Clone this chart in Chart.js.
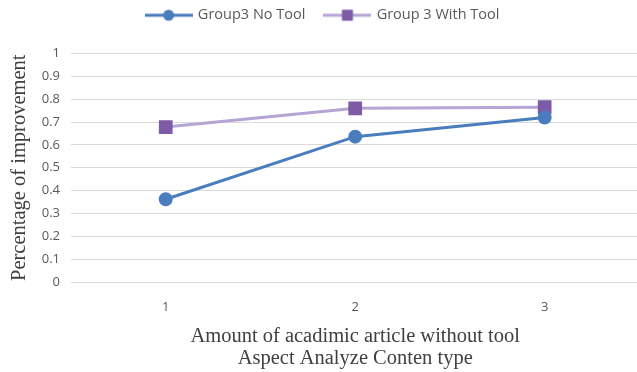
<!DOCTYPE html>
<html>
<head>
<meta charset="utf-8">
<script src="https://cdn.jsdelivr.net/npm/chart.js@4/dist/chart.umd.min.js"></script>
<style>
  html, body { margin: 0; padding: 0; background: #ffffff; overflow: hidden; }
  #wrap { width: 650px; height: 372px; position: relative; }
</style>
</head>
<body>
<div id="wrap"><canvas id="chart"></canvas></div>
<script>
// Categories and series
const categories = ['1', '2', '3'];
const noToolValues = [0.362, 0.636, 0.72];
const withToolValues = [0.678, 0.76, 0.765];
const seriesNames = ['Group3 No Tool', 'Group 3 With Tool'];
const yTicks = [0, 0.1, 0.2, 0.3, 0.4, 0.5, 0.6, 0.7, 0.8, 0.9, 1];
const yTitle = 'Percentage of improvement';
const xTitle = ['Amount of acadimic article without tool', 'Aspect Analyze Conten type'];

const blue = '#4a7dbd';
const purpleLine = '#b4a5d5';
const purpleMark = '#7d5ba6';
const textGray = '#595959';
const titleGray = '#404040';
const gridGray = '#d9d9d9';

// Legend swatch: a short line segment with the series marker in its middle
function legendSwatch(lineColor, markColor, shape) {
  const c = document.createElement('canvas');
  c.width = 48; c.height = 14;
  const g = c.getContext('2d');
  g.strokeStyle = lineColor;
  g.lineWidth = 3;
  g.beginPath(); g.moveTo(0, 7); g.lineTo(48, 7); g.stroke();
  g.fillStyle = markColor;
  if (shape === 'circle') {
    g.beginPath(); g.arc(24, 7, 5.5, 0, Math.PI * 2); g.fill();
  } else {
    g.fillRect(18.5, 1.5, 11, 11);
  }
  return c;
}
const swatches = [
  legendSwatch(blue, blue, 'circle'),
  legendSwatch(purpleLine, purpleMark, 'rect')
];

// Legend box: fixed height above the plot, drawn with a small offset
const legendPlacement = {
  id: 'legendPlacement',
  afterInit(chart) {
    const legend = chart.legend;
    const fit = legend.fit;
    legend.fit = function () { fit.call(this); this.height = 53.5; };
    const draw = legend.draw;
    legend.draw = function () {
      const ctx = this.ctx;
      ctx.save();
      ctx.translate(-2, -12);
      draw.call(this);
      ctx.restore();
    };
  }
};

new Chart(document.getElementById('chart'), {
  type: 'line',
  data: {
    labels: categories,
    datasets: [
      {
        label: seriesNames[0],
        data: noToolValues,
        borderColor: blue,
        backgroundColor: blue,
        borderWidth: 3,
        pointStyle: 'circle',
        pointRadius: 5.5,
        pointBackgroundColor: blue,
        pointBorderColor: blue,
        tension: 0
      },
      {
        label: seriesNames[1],
        data: withToolValues,
        borderColor: purpleLine,
        backgroundColor: purpleMark,
        borderWidth: 3,
        pointStyle: 'rect',
        pointRadius: 7.6,
        pointBackgroundColor: purpleMark,
        pointBorderColor: purpleMark,
        tension: 0
      }
    ]
  },
  plugins: [legendPlacement],
  options: {
    responsive: true,
    maintainAspectRatio: false,
    animation: false,
    layout: { padding: { top: 0, right: 0, bottom: 0, left: 0 } },
    plugins: {
      tooltip: { enabled: false },
      legend: {
        position: 'top',
        labels: {
          usePointStyle: true,
          pointStyleWidth: 44,
          boxHeight: 12,
          padding: 20,
          color: textGray,
          font: { family: 'Open Sans', size: 14.5 },
          generateLabels(chart) {
            return chart.data.datasets.map((ds, i) => ({
              text: ds.label,
              fillStyle: ds.borderColor,
              strokeStyle: ds.borderColor,
              lineWidth: 0,
              pointStyle: swatches[i],
              hidden: false,
              datasetIndex: i,
              fontColor: textGray
            }));
          }
        }
      }
    },
    scales: {
      x: {
        offset: true,
        afterFit(scale) { scale.height = 90; },
        grid: { display: false, drawTicks: false },
        border: { display: false },
        ticks: { color: textGray, font: { family: 'Open Sans', size: 13 }, padding: 17 },
        title: {
          display: true,
          text: xTitle,
          color: titleGray,
          font: { family: 'Liberation Serif', size: 20.5, lineHeight: 1.07 },
          padding: { top: 0, bottom: 2 }
        }
      },
      y: {
        min: 0,
        max: 1,
        afterBuildTicks(scale) { scale.ticks = yTicks.map(v => ({ value: v })); },
        afterFit(scale) { scale.width = 71; },
        grid: { color: gridGray, lineWidth: 1, drawTicks: false },
        border: { display: false },
        ticks: {
          color: textGray,
          font: { family: 'Open Sans', size: 13 },
          padding: 11,
          callback: v => String(Math.round(v * 10) / 10)
        },
        title: {
          display: true,
          text: yTitle,
          color: titleGray,
          font: { family: 'Liberation Serif', size: 20.5, lineHeight: 1.07 },
          padding: { top: 9, bottom: 0 }
        }
      }
    }
  }
});
</script>
</body>
</html>
